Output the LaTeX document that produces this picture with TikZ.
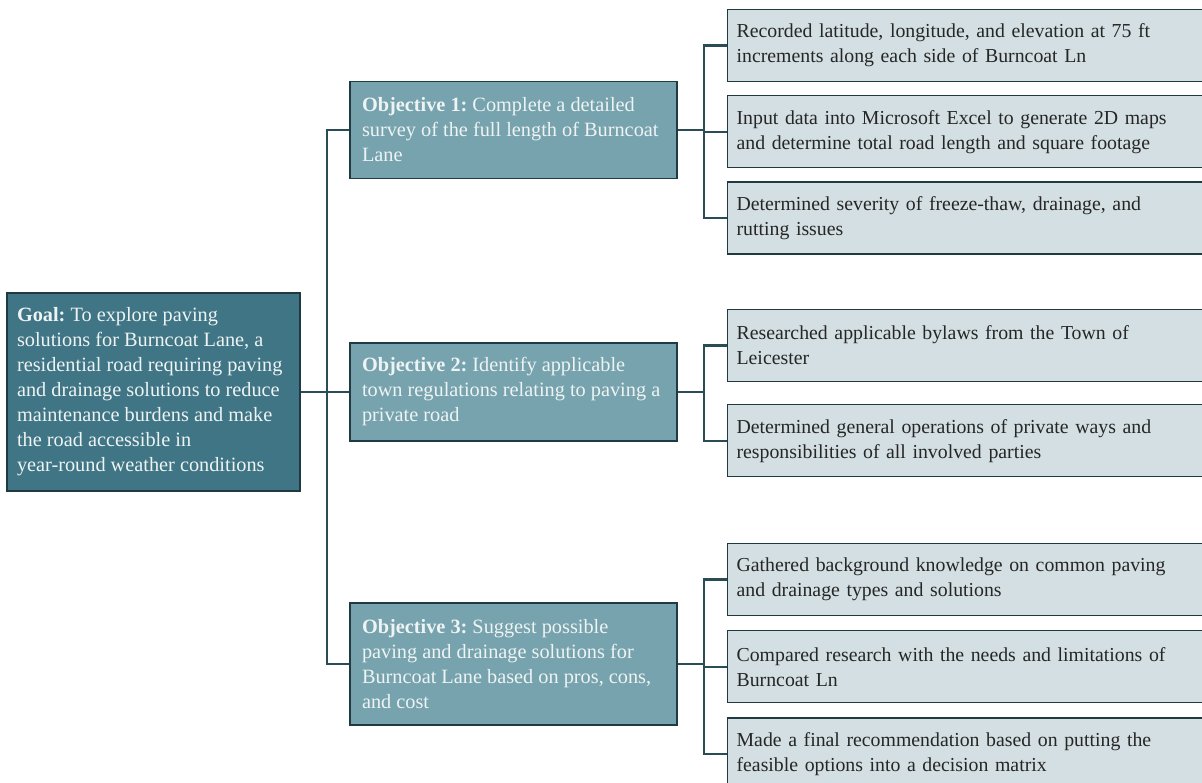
\documentclass[tikz,border=0pt]{standalone}
\usepackage{fontspec}
\setmainfont{Liberation Serif}
\usetikzlibrary{positioning}
\definecolor{goalfill}{HTML}{3F7585}
\definecolor{objfill}{HTML}{77A3AE}
\definecolor{taskfill}{HTML}{D3DFE2}
\definecolor{edgedark}{HTML}{1F3A41}
\definecolor{linkcol}{HTML}{2A4D55}
\definecolor{paletext}{HTML}{EEF3F3}
\newcommand{\boxfont}{\fontsize{20.3pt}{25pt}\selectfont\frenchspacing}
\newcommand{\taskfont}{\fontsize{19.8pt}{25pt}\selectfont\frenchspacing}

\begin{document}
\begin{tikzpicture}[x=1pt, y=-1pt,
  goalbox/.style={draw=edgedark, line width=1.6pt, fill=goalfill, text=paletext, minimum width=293pt, minimum height=198pt, align=left, font=\boxfont},
  objbox/.style={draw=edgedark, line width=1.6pt, fill=objfill, text=paletext, minimum width=327pt, align=left, font=\boxfont},
  taskbox/.style={draw=edgedark, line width=1.2pt, fill=taskfill, text=black!85, text width=472pt, inner xsep=9pt, minimum height=72pt, align=left, anchor=north west, font=\taskfont},
  link/.style={linkcol, line width=2.4pt}
]
  \useasboundingbox (0,0) rectangle (1202,783);

  \node[goalbox] (goal) at (153.5,392) {\makebox[273pt][l]{\textbf{Goal:} To explore paving}\\solutions for Burncoat Lane, a\\residential road requiring paving\\and drainage solutions to reduce\\maintenance burdens and make\\the road accessible in\\year-round weather conditions};

  \node[objbox, minimum height=97pt] (obj1) at (513.5,130) {\makebox[303pt][l]{\textbf{Objective 1:} Complete a detailed}\\survey of the full length of Burncoat\\Lane};
  \node[objbox, minimum height=98pt] (obj2) at (513.5,392) {\makebox[303pt][l]{\textbf{Objective 2:} Identify applicable}\\town regulations relating to paving a\\private road};
  \node[objbox, minimum height=122pt] (obj3) at (513.5,664) {\makebox[303pt][l]{\textbf{Objective 3:} Suggest possible}\\paving and drainage solutions for\\Burncoat Lane based on pros, cons,\\and cost};

  % tasks under objective 1
  \node[taskbox] (survA) at (727,9) {Recorded latitude, longitude, and elevation at 75 ft\\increments along each side of Burncoat Ln};
  \node[taskbox, below=13pt of survA] (survB) {Input data into Microsoft Excel to generate 2D maps\\and determine total road length and square footage};
  \node[taskbox, below=13pt of survB] (survC) {Determined severity of freeze-thaw, drainage, and\\rutting issues};

  % tasks under objective 2
  \node[taskbox] (regA) at (727,309) {Researched applicable bylaws from the Town of\\Leicester};
  \node[taskbox, below=22pt of regA] (regB) {Determined general operations of private ways and\\responsibilities of all involved parties};

  % tasks under objective 3
  \node[taskbox] (solA) at (727,543) {Gathered background knowledge on common paving\\and drainage types and solutions};
  \node[taskbox, below=14pt of solA] (solB) {Compared research with the needs and limitations of\\Burncoat Ln};
  \node[taskbox, below=14pt of solB] (solC) {Made a final recommendation based on putting the\\feasible options into a decision matrix};

  % goal to objectives
  \coordinate (hub) at (327,392);
  \draw[link] (goal.east) -- (hub);
  \draw[link] (hub) |- (obj1.west);
  \draw[link] (hub) |- (obj3.west);
  \draw[link] (hub) |- (obj2.west);

  % objectives to tasks
  \draw[link] (obj1.east) -- ++(26,0) coordinate (hub1);
  \draw[link] (hub1) |- (survA.west);
  \draw[link] (hub1) |- (survB.west);
  \draw[link] (hub1) |- (survC.west);

  \draw[link] (obj2.east) -- ++(26,0) coordinate (hub2);
  \draw[link] (hub2) |- (regA.west);
  \draw[link] (hub2) |- (regB.west);

  \draw[link] (obj3.east) -- ++(26,0) coordinate (hub3);
  \draw[link] (hub3) |- (solA.west);
  \draw[link] (hub3) |- (solB.west);
  \draw[link] (hub3) |- (solC.west);
\end{tikzpicture}
\end{document}
